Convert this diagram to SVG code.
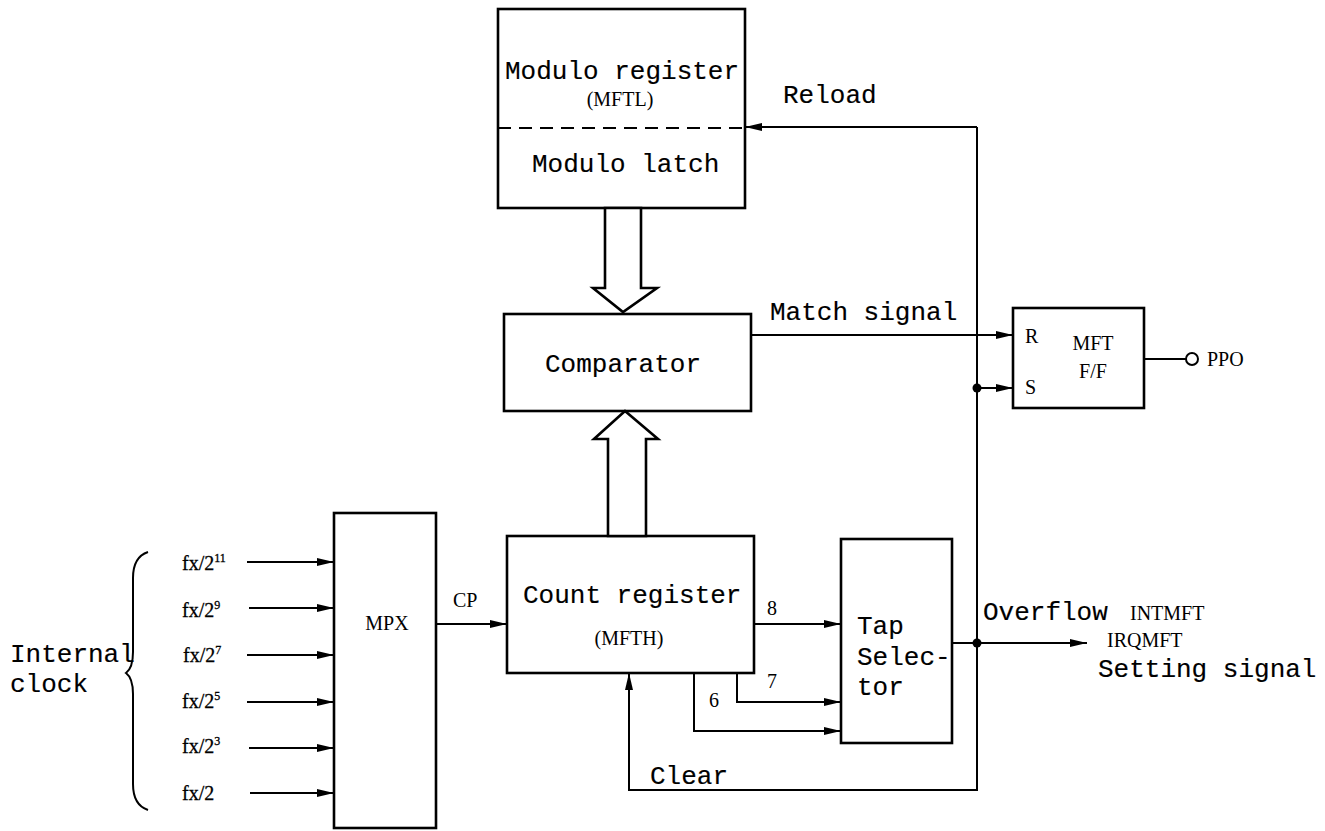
<svg xmlns="http://www.w3.org/2000/svg" width="1325" height="831" viewBox="0 0 1325 831">
<defs>
<marker id="ah" markerWidth="18" markerHeight="10" refX="17" refY="5" orient="auto" markerUnits="userSpaceOnUse">
<path d="M0,1 L17,5 L0,9 Z" fill="#000"/>
</marker>
<style>
.box{fill:#fff;stroke:#000;stroke-width:2.6}
.ln{fill:none;stroke:#000;stroke-width:2}
.arr{fill:none;stroke:#000;stroke-width:2;marker-end:url(#ah)}
.mono{font-family:"Liberation Mono","Courier New",monospace;font-size:26px;fill:#000;stroke:#000;stroke-width:0.15}
.ser{font-family:"Liberation Serif","Times New Roman",serif;font-size:20px;fill:#000}
.fx{font-family:"Liberation Serif","Times New Roman",serif;font-size:20px;fill:#000;stroke:#000;stroke-width:0.3}
.sup{font-size:12px}
</style>
</defs>
<rect width="1325" height="831" fill="#fff"/>

<g id="modulo">
<rect class="box" x="498" y="9" width="247" height="199"/>
<line x1="498" y1="128" x2="745" y2="128" stroke="#000" stroke-width="2" stroke-dasharray="13,8"/>
<text class="mono" x="505" y="79">Modulo register</text>
<text class="ser" x="620" y="106" text-anchor="middle" font-size="18">(MFTL)</text>
<text class="mono" x="532" y="172">Modulo latch</text>
</g>

<g id="comparator">
<rect class="box" x="504" y="314" width="247" height="97"/>
<text class="mono" x="545" y="372">Comparator</text>
</g>

<g id="count">
<rect class="box" x="507" y="536" width="247" height="137"/>
<text class="mono" x="523" y="603">Count register</text>
<text class="ser" x="629" y="645" text-anchor="middle" font-size="18">(MFTH)</text>
</g>

<g id="tap">
<rect class="box" x="841" y="539" width="111" height="204"/>
<text class="mono" x="857" y="634">Tap</text>
<text class="mono" x="857" y="665">Selec-</text>
<text class="mono" x="857" y="695">tor</text>
</g>

<g id="mpx">
<rect class="box" x="334" y="513" width="102" height="315"/>
<text class="ser" x="387" y="630" text-anchor="middle">MPX</text>
</g>

<g id="ff">
<rect class="box" x="1013" y="308" width="131" height="100"/>
<text class="ser" x="1025" y="343">R</text>
<text class="ser" x="1025" y="394">S</text>
<text class="ser" x="1093" y="350" text-anchor="middle">MFT</text>
<text class="ser" x="1093" y="378" text-anchor="middle">F/F</text>
</g>

<g id="clock">
<path class="ln" d="M148,552 C136,556 133,566 133,578 L133,652 C133,664 130,670 126,673 C130,676 133,682 133,694 L133,784 C133,796 136,806 148,810"/>
<text class="mono" x="10" y="662">Internal</text>
<text class="mono" x="10" y="692">clock</text>
<text class="fx" x="182" y="570">fx/2<tspan class="sup" dy="-8">11</tspan></text>
<text class="fx" x="182" y="617">fx/2<tspan class="sup" dy="-8">9</tspan></text>
<text class="fx" x="183" y="662">fx/2<tspan class="sup" dy="-8">7</tspan></text>
<text class="fx" x="182" y="708">fx/2<tspan class="sup" dy="-8">5</tspan></text>
<text class="fx" x="182" y="753">fx/2<tspan class="sup" dy="-8">3</tspan></text>
<text class="fx" x="182" y="800">fx/2</text>
</g>

<g id="connectors">
<line class="arr" x1="247" y1="562" x2="334" y2="562"/>
<line class="arr" x1="249" y1="608" x2="334" y2="608"/>
<line class="arr" x1="247" y1="655" x2="334" y2="655"/>
<line class="arr" x1="247" y1="702" x2="334" y2="702"/>
<line class="arr" x1="249" y1="748" x2="334" y2="748"/>
<line class="arr" x1="250" y1="793" x2="334" y2="793"/>
<line class="arr" x1="436" y1="624" x2="507" y2="624"/>
<text class="ser" x="453" y="607">CP</text>

<polygon class="box" points="605,208 641,208 641,288 657,288 623,312 593,288 605,288"/>
<polygon class="box" points="608,536 646,536 646,439 658,439 625,411 594,439 608,439"/>

<line class="arr" x1="754" y1="624" x2="841" y2="624"/>
<polyline class="arr" points="737,673 737,702 841,702"/>
<polyline class="arr" points="694,673 694,731 841,731"/>
<text class="ser" x="767" y="615">8</text>
<text class="ser" x="767" y="688">7</text>
<text class="ser" x="709" y="707">6</text>

<polyline class="arr" points="977,127 977,790 629,790 629,673"/>
<line class="arr" x1="977" y1="127" x2="745" y2="127"/>
<text class="mono" x="783" y="103">Reload</text>
<text class="mono" x="650" y="784">Clear</text>

<line class="arr" x1="751" y1="335" x2="1013" y2="335"/>
<text class="mono" x="770" y="320">Match signal</text>
<line class="arr" x1="977" y1="388" x2="1013" y2="388"/>
<circle cx="977" cy="388" r="4.5" fill="#000"/>

<line class="arr" x1="952" y1="643" x2="1087" y2="643"/>
<circle cx="977" cy="643" r="4.5" fill="#000"/>
<text class="mono" x="983" y="620">Overflow</text>
<text class="ser" x="1130" y="620" font-size="19">INTMFT</text>
<text class="ser" x="1107" y="647" font-size="19">IRQMFT</text>
<text class="mono" x="1098" y="677">Setting signal</text>

<line class="ln" x1="1144" y1="359" x2="1186" y2="359"/>
<circle cx="1192" cy="359" r="6" fill="#fff" stroke="#000" stroke-width="2"/>
<text class="ser" x="1207" y="366" font-size="19">PPO</text>
</g>
</svg>
